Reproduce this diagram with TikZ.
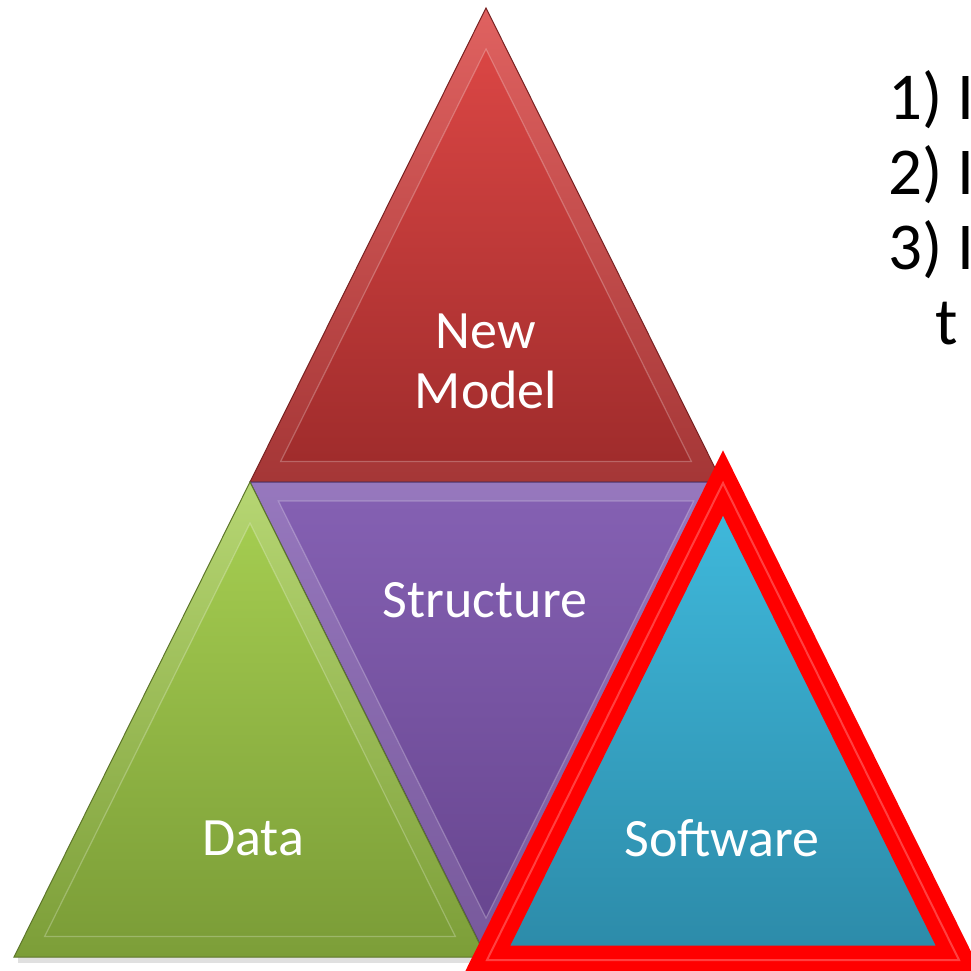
\documentclass[tikz,border=0pt]{standalone}
\usepackage{fontspec}
\setmainfont{Carlito}
\usetikzlibrary{calc}

\begin{document}
\begin{tikzpicture}
[x=1pt,y=-1pt,line join=miter,
% Styles
face/.style={draw=#1!75!black,line width=1pt},
bevel line/.style={draw=white,draw opacity=0.25,line width=1.2pt},
label text/.style={text=white,font=\fontsize{54}{60}\selectfont,align=center,inner sep=0pt},
list text/.style={text=black,font=\fontsize{67}{75}\selectfont,anchor=base west,inner sep=0pt},
frame line/.style={draw=framecolor,line width=29pt}]
% Colors
\definecolor{modeltop}{RGB}{218,70,68}
\definecolor{modelbottom}{RGB}{160,44,44}
\definecolor{structuretop}{RGB}{132,96,178}
\definecolor{structurebottom}{RGB}{104,70,144}
\definecolor{datatop}{RGB}{164,204,80}
\definecolor{databottom}{RGB}{124,158,56}
\definecolor{softwaretop}{RGB}{64,187,222}
\definecolor{softwarebottom}{RGB}{44,138,168}
\definecolor{framecolor}{RGB}{255,0,0}

\useasboundingbox (0,0) rectangle (971,970);
\clip (0,0) rectangle (971,970);

% Shadow under the bottom row
\fill[black,opacity=0.12] (18,957) rectangle (484,963);

% New Model face
\coordinate (model top) at (486,8);
\coordinate (model left) at (250,482);
\coordinate (model right) at (722,482);
\coordinate (model mid) at (barycentric cs:model top=1,model left=1,model right=1);
\shade[top color=modeltop!85!white,bottom color=modelbottom!95!white,face=modelbottom]
  (model top) -- (model left) -- (model right) -- cycle;
\shade[top color=modeltop,bottom color=modelbottom,bevel line]
  ($(model mid)!0.87!(model top)$) -- ($(model mid)!0.87!(model left)$)
  -- ($(model mid)!0.87!(model right)$) -- cycle;

% Structure face (upside down)
\coordinate (structure left) at (250,482);
\coordinate (structure right) at (722,482);
\coordinate (structure bottom) at (486,956);
\coordinate (structure mid) at (barycentric cs:structure left=1,structure right=1,structure bottom=1);
\shade[top color=structuretop!85!white,bottom color=structurebottom!90!white,face=structurebottom]
  (structure left) -- (structure right) -- (structure bottom) -- cycle;
\shade[top color=structuretop,bottom color=structurebottom,bevel line]
  ($(structure mid)!0.88!(structure left)$) -- ($(structure mid)!0.88!(structure right)$)
  -- ($(structure mid)!0.88!(structure bottom)$) -- cycle;

% Data face
\coordinate (data top) at (250,482);
\coordinate (data left) at (14,957);
\coordinate (data right) at (486,957);
\coordinate (data mid) at (barycentric cs:data top=1,data left=1,data right=1);
\shade[top color=datatop!80!white,bottom color=databottom,face=databottom]
  (data top) -- (data left) -- (data right) -- cycle;
\shade[top color=datatop,bottom color=databottom,bevel line]
  ($(data mid)!0.87!(data top)$) -- ($(data mid)!0.87!(data left)$)
  -- ($(data mid)!0.87!(data right)$) -- cycle;

% Software face with the red frame
\coordinate (software top) at (723,483);
\coordinate (software left) at (487,960);
\coordinate (software right) at (959,960);
\shade[top color=softwaretop,bottom color=softwarebottom]
  (software top) -- (software left) -- (software right) -- cycle;
\draw[frame line] (software top) -- (software left) -- (software right) -- cycle;
\draw[draw=white,draw opacity=0.25,line width=2pt]
  (software top) -- (software left) -- (software right) -- cycle;

% Labels
\node[label text] (new model) at (486,361) {New\\Model};
\node[label text] (structure) at (485,600) {Structure};
\node[label text] (data) at (253,838) {Data};
\node[label text] (software) at (722,838) {Software};

% List at the right edge
\node[list text] (item one) at (888,119) {1) I};
\node[list text] (item two) at (888,194) {2) I};
\node[list text] (item three) at (888,269) {3) I};
\node[list text] (item three rest) at (935,344) {t};
\end{tikzpicture}
\end{document}
